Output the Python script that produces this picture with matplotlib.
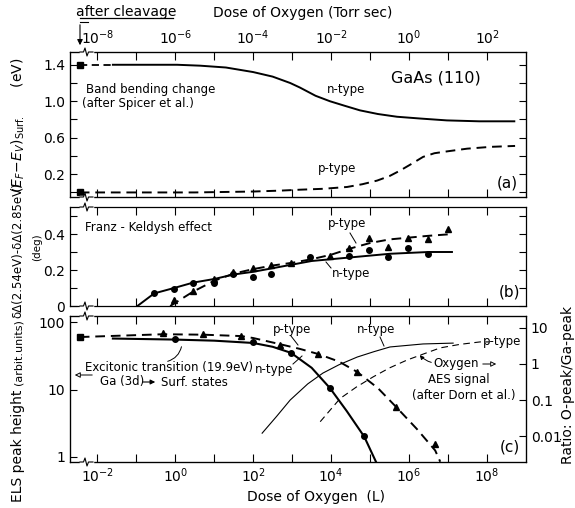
import numpy as np
import matplotlib
matplotlib.use("Agg")
import matplotlib.pyplot as plt
from matplotlib.lines import Line2D
from matplotlib.ticker import NullLocator, FixedLocator

plt.rcParams['font.family'] = ['DejaVu Sans']
plt.rcParams['mathtext.fontset'] = 'dejavusans'

# ---------------- data (dose given as log10 of Langmuir) ----------------
cleave_exp = -2.45           # "after cleavage" position (left of axis break)

# (a) band bending (eV)
a_n_exp = [-2.45, -1.6]      # dashed part n-type
a_n_val_d = [1.40, 1.40]
a_n_dose = [-1.6, -1.0, 0.05, 0.64, 1.3, 2.0, 2.5, 2.95, 3.2, 3.6, 3.97, 4.35, 4.74, 5.2, 5.69, 6.3, 6.97, 7.8, 8.7]
a_n_val = [1.40, 1.40, 1.40, 1.39, 1.37, 1.32, 1.27, 1.20, 1.15, 1.06, 1.00, 0.95, 0.90, 0.86, 0.83, 0.81, 0.79, 0.78, 0.78]
a_p_dose = [-2.45, -1.0, 0.5, 2.0, 2.7, 3.2, 3.8, 4.41, 4.8, 5.18, 5.5, 5.77, 6.05, 6.36, 6.65, 6.97, 7.49, 8.1, 8.72]
a_p_val = [0.0, 0.0, 0.0, 0.01, 0.02, 0.03, 0.04, 0.06, 0.09, 0.13, 0.18, 0.24, 0.31, 0.39, 0.43, 0.45, 0.48, 0.50, 0.51]

# (b) Franz-Keldysh (deg)
b_n_pts_dose = [-0.54, -0.03, 0.46, 1.0, 1.49, 2.0, 2.46, 3.46, 4.46, 4.97, 5.46, 5.97, 6.49]
b_n_pts_val = [0.07, 0.094, 0.13, 0.13, 0.18, 0.16, 0.18, 0.27, 0.28, 0.31, 0.27, 0.32, 0.29]
b_n_line_dose = [-0.97, -0.54, -0.03, 0.46, 1.0, 1.5, 2.0, 2.5, 3.0, 3.5, 4.5, 5.5, 6.5, 7.1]
b_n_line_val = [0.0, 0.07, 0.10, 0.13, 0.15, 0.175, 0.19, 0.21, 0.23, 0.25, 0.27, 0.29, 0.30, 0.30]
b_p_pts_dose = [-0.03, 0.46, 1.0, 1.49, 2.0, 2.46, 2.97, 3.97, 4.46, 4.97, 5.46, 5.97, 6.49, 7.0]
b_p_pts_val = [0.033, 0.083, 0.15, 0.19, 0.21, 0.23, 0.24, 0.28, 0.32, 0.38, 0.33, 0.38, 0.37, 0.43]
b_p_line_dose = [-0.13, 0.46, 1.0, 1.5, 2.0, 2.5, 3.0, 3.5, 4.0, 4.5, 5.0, 5.5, 6.0, 6.5, 7.13]
b_p_line_val = [0.0, 0.08, 0.14, 0.18, 0.205, 0.225, 0.24, 0.26, 0.285, 0.32, 0.35, 0.37, 0.38, 0.39, 0.40]

# (c) ELS peak height (arb. units), left axis
c_cleave_val = 60
c_p_pts_dose = [-0.31, 0.72, 1.69, 2.69, 3.67, 4.67, 5.67, 6.67]
c_p_pts_val = [69, 66, 62, 45.5, 33.6, 18.2, 5.5, 1.56]
c_p_line_dose = [-2.45, -0.31, 0.72, 1.69, 2.0, 2.69, 3.2, 3.67, 4.2, 4.67, 5.2, 5.67, 6.2, 6.67, 6.8]
c_p_line_val = [60, 66, 65, 62, 58, 47, 40, 33.6, 26, 18.2, 10.5, 5.5, 2.6, 1.25, 0.85]
c_n_pts_dose = [0.0, 2.0, 2.97, 3.97, 4.85]
c_n_pts_val = [56, 50.5, 34.7, 10.5, 2.05]
c_n_line_dose = [-1.6, 0.0, 1.0, 2.0, 2.5, 2.97, 3.5, 3.97, 4.4, 4.85, 5.15]
c_n_line_val = [57, 55, 53, 49, 43, 35, 21, 10.5, 4.8, 2.0, 0.85]
# Oxygen AES ratio, right axis
aes_n_dose = [2.23, 2.6, 2.95, 3.4, 3.79, 4.2, 4.67, 5.1, 5.51, 6.36, 7.13]
aes_n_val = [0.012, 0.035, 0.1, 0.28, 0.56, 0.95, 1.56, 2.2, 2.97, 3.6, 3.8]
aes_p_dose = [3.72, 4.23, 4.65, 5.08, 5.5, 5.95, 6.4, 6.8, 7.3, 7.82, 8.05]
aes_p_val = [0.025, 0.11, 0.23, 0.44, 0.78, 1.29, 1.95, 2.8, 3.5, 4.1, 4.1]

x_exp_lim = (-2.7, 9.0)
decades = list(range(-2, 9))

W, H = 575, 508
fig = plt.figure(figsize=(W / 100, H / 100), dpi=100)


def axes_px(l, t, r, b):
    return [l / W, 1 - b / H, (r - l) / W, (b - t) / H]


def P(x, y):
    return (x, H - y)


def E(lst):
    return [10.0 ** v for v in lst]


ax_a = fig.add_axes(axes_px(70, 52, 526, 197))
ax_b = fig.add_axes(axes_px(70, 207, 526, 306))
ax_c = fig.add_axes(axes_px(70, 316, 526, 462))

for ax in (ax_a, ax_b, ax_c):
    ax.set_xscale('log')
    ax.set_xlim(10 ** x_exp_lim[0], 10 ** x_exp_lim[1])
    ax.xaxis.set_major_locator(FixedLocator([10.0 ** d for d in decades]))
    ax.xaxis.set_minor_locator(NullLocator())
    ax.tick_params(axis='x', which='both', direction='in', top=True, bottom=True, length=6, width=0.8)
    ax.tick_params(axis='y', which='both', direction='in', left=True, right=True, width=0.8)
    ax.tick_params(axis='y', which='major', length=5)
    ax.tick_params(axis='y', which='minor', length=5)
    ax.tick_params(labelsize=10)
    for s in ax.spines.values():
        s.set_linewidth(0.9)

ax_a.set_xticklabels([])
ax_b.set_xticklabels([])
ax_c.set_xticklabels([r'$10^{%d}$' % d if d % 2 == 0 else '' for d in decades])

# top axis (Torr sec)
ax_t = ax_a.twiny()
ax_t.set_xscale('log')
ax_t.set_xlim(10 ** (x_exp_lim[0] - 6), 10 ** (x_exp_lim[1] - 6))
ax_t.xaxis.set_major_locator(FixedLocator([10.0 ** (d - 6) for d in decades]))
ax_t.xaxis.set_minor_locator(NullLocator())
ax_t.set_xticklabels([r'$10^{%d}$' % (d - 6) if d % 2 == 0 else '' for d in decades])
ax_t.tick_params(axis='x', direction='in', length=6, width=0.8, labelsize=10)

# ---- (a)
ax_a.set_ylim(-0.05, 1.54)
ax_a.set_yticks([0.2, 0.6, 1.0, 1.4])
ax_a.set_yticklabels(['0.2', '0.6', '1.0', '1.4'])
ax_a.set_yticks([0.0, 0.4, 0.8, 1.2], minor=True)
ax_a.plot(E(a_n_exp), a_n_val_d, color='black', lw=1.3, dashes=(4, 2.5))
ax_a.plot(E(a_n_dose), a_n_val, color='black', lw=1.4)
ax_a.plot(E(a_p_dose), a_p_val, color='black', lw=1.4, dashes=(5, 3))
ax_a.plot([10 ** cleave_exp] * 2, [a_n_val_d[0], a_p_val[0]], ls='none', marker='s', ms=4, color='black')

# ---- (b)
ax_b.set_ylim(0, 0.55)
ax_b.set_yticks([0, 0.2, 0.4])
ax_b.set_yticklabels(['0', '0.2', '0.4'])
ax_b.set_yticks([0.1, 0.3, 0.5], minor=True)
ax_b.plot(E(b_n_line_dose), b_n_line_val, color='black', lw=1.4)
ax_b.plot(E(b_p_line_dose), b_p_line_val, color='black', lw=1.4, dashes=(5, 3))
ax_b.plot(E(b_n_pts_dose), b_n_pts_val, ls='none', marker='o', ms=4, color='black')
ax_b.plot(E(b_p_pts_dose), b_p_pts_val, ls='none', marker='^', ms=4.5, color='black')

# ---- (c)
ax_c.set_yscale('log')
ax_c.set_ylim(0.843, 123)
ax_c.yaxis.set_major_locator(FixedLocator([1, 10, 100]))
ax_c.yaxis.set_minor_locator(NullLocator())
ax_c.set_yticklabels(['1', '10', '100'])
ax_c.tick_params(axis='y', right=False)
ax_c.plot(E(c_n_line_dose), c_n_line_val, color='black', lw=1.5)
ax_c.plot(E(c_p_line_dose), c_p_line_val, color='black', lw=1.4, dashes=(5, 3))
ax_c.plot(E(c_n_pts_dose), c_n_pts_val, ls='none', marker='o', ms=4, color='black')
ax_c.plot(E(c_p_pts_dose), c_p_pts_val, ls='none', marker='^', ms=4.5, color='black')
ax_c.plot([10 ** cleave_exp], [c_cleave_val], ls='none', marker='s', ms=4, color='black')

ax_r = ax_c.twinx()
ax_r.set_yscale('log')
ax_r.set_ylim(0.0019, 21.5)
ax_r.yaxis.set_major_locator(FixedLocator([0.01, 0.1, 1, 10]))
ax_r.yaxis.set_minor_locator(NullLocator())
ax_r.set_yticklabels(['0.01', '0.1', '1', '10'])
ax_r.tick_params(axis='y', direction='in', length=5, width=0.8, labelsize=10)
ax_r.plot(E(aes_n_dose), aes_n_val, color='black', lw=0.8)
ax_r.plot(E(aes_p_dose), aes_p_val, color='black', lw=0.8, dashes=(6, 4))

# ---- axis breaks
for yb in (52, 197, 207, 306, 316, 462):
    fig.add_artist(Line2D([81 / W, 92 / W], [1 - yb / H] * 2, color='white', lw=2.5,
                          transform=fig.transFigure, zorder=20))
    xs = [80, 83.5, 85, 87, 88.5, 93]
    ys = [yb, yb, yb - 4, yb + 4, yb, yb]
    fig.add_artist(Line2D([x / W for x in xs], [1 - v / H for v in ys], color='black', lw=0.8,
                          transform=fig.transFigure, zorder=21))


def T(x, y, s, **kw):
    kw.setdefault('fontsize', 8.5)
    kw.setdefault('ha', 'center')
    kw.setdefault('va', 'center')
    fig.text(x / W, 1 - y / H, s, **kw)


def L(pts, lw=0.7, arrow=None):
    xs = [p[0] / W for p in pts]
    ys = [1 - p[1] / H for p in pts]
    fig.add_artist(Line2D(xs, ys, color='black', lw=lw, transform=fig.transFigure))


# titles / labels
T(126, 12, 'after cleavage', fontsize=10)
L([(80, 18), (173, 18)], lw=0.9)
fig.add_artist(Line2D([88 / W, 80 / W], [1 - 22 / H] * 2, color='black', lw=0.8, transform=fig.transFigure))
ax_a.annotate('', xy=P(80, 48), xycoords='figure pixels', xytext=P(80, 22), textcoords='figure pixels',
              arrowprops=dict(arrowstyle='-|>', color='black', lw=0.8, mutation_scale=8))
T(303, 13, 'Dose of Oxygen (Torr sec)', fontsize=10)
T(316, 497, 'Dose of Oxygen  (L)', fontsize=10)

T(18, 125, r'$(E_F\!-\!E_V)_{\rm Surf.}$      (eV)', fontsize=10, rotation=90)
T(18, 250, 'δΔ(2.54eV)-δΔ(2.85eV)', fontsize=8.5, rotation=90)
T(37, 247, '(deg)', fontsize=7.5, rotation=90)
T(18, 446, 'ELS peak height', fontsize=10, rotation=90)
T(18, 352, '(arbit.units)', fontsize=8, rotation=90)
T(568, 385, 'Ratio: O-peak/Ga-peak', fontsize=10, rotation=90)

# panel a texts
T(436, 78, 'GaAs (110)', fontsize=11.5)
T(346, 90, 'n-type')
T(337, 168, 'p-type')
T(507, 183, '(a)', fontsize=11)
T(86, 90, 'Band bending change', ha='left')
T(82, 104, '(after Spicer et al.)', ha='left')

# panel b texts
T(85, 228, 'Franz - Keldysh effect', ha='left')
T(347, 224, 'p-type')
L([(350, 233), (356, 243)])
T(351, 273, 'n-type')
L([(326, 262), (331, 268)])
T(510, 292, '(b)', fontsize=11)

# panel c texts
T(85, 367, 'Excitonic transition (19.9eV)', ha='left')
T(100, 382, 'Ga (3d)', ha='left')
ax_c.annotate('', xy=P(158, 382), xycoords='figure pixels', xytext=P(140, 382), textcoords='figure pixels',
              arrowprops=dict(arrowstyle='-|>', color='black', lw=0.8, mutation_scale=7))
T(161, 382, 'Surf. states', ha='left')
ax_c.annotate('', xy=P(72, 375), xycoords='figure pixels', xytext=P(95, 375), textcoords='figure pixels',
              arrowprops=dict(arrowstyle='-|>', color='black', lw=0.7, mutation_scale=8, fc='white'))
ax_c.annotate('', xy=P(182, 344), xycoords='figure pixels', xytext=P(165, 362), textcoords='figure pixels',
              arrowprops=dict(arrowstyle='-', color='black', lw=0.7, connectionstyle='arc3,rad=0.35'))
T(292, 329, 'p-type')
L([(291, 336), (298, 345)])
T(274, 369, 'n-type')
L([(293, 364), (302, 356)])
T(376, 329, 'n-type')
L([(380, 337), (384, 346)])
T(502, 342, 'p-type')
T(456, 364, 'Oxygen')
ax_c.annotate('', xy=P(418, 353), xycoords='figure pixels', xytext=P(434, 363), textcoords='figure pixels',
              arrowprops=dict(arrowstyle='-|>', color='black', lw=0.7, mutation_scale=6,
                              connectionstyle='arc3,rad=-0.2'))
ax_c.annotate('', xy=P(499, 364), xycoords='figure pixels', xytext=P(480, 364), textcoords='figure pixels',
              arrowprops=dict(arrowstyle='-|>', color='black', lw=0.7, mutation_scale=8, fc='white'))
T(459, 380, 'AES signal')
T(464, 395, '(after Dorn et al.)')
T(510, 447, '(c)', fontsize=11)

fig.savefig('out.png', dpi=100)
